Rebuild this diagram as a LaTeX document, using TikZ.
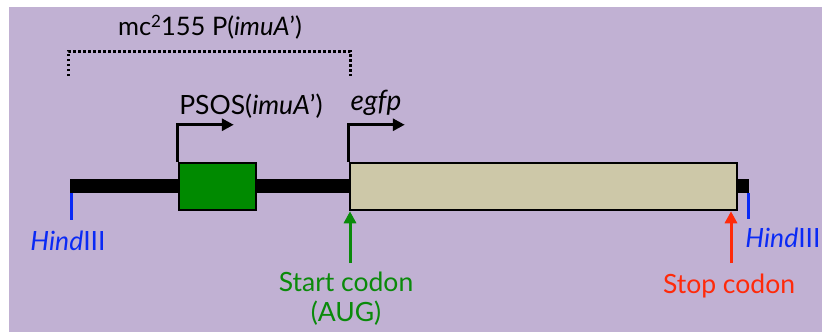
\documentclass[tikz,border=0pt]{standalone}
\usepackage{fontspec}
\setmainfont{Lato}
\usetikzlibrary{arrows.meta}
\definecolor{bg}{HTML}{C1B1D3}
\definecolor{gbox}{HTML}{008A00}
\definecolor{beige}{HTML}{CDC8A8}
\definecolor{hblue}{HTML}{0A2AF5}
\definecolor{sgreen}{HTML}{0A8A0A}
\definecolor{sred}{HTML}{FF2A0A}
\begin{document}
\begin{tikzpicture}[x=1pt,y=-1pt,
  lbl/.style={font=\fontsize{26.5}{30}\selectfont, inner sep=0pt, align=center},
  gene/.style={draw=black, line width=2.5pt, minimum height=47pt, inner sep=0pt},
  prom/.style={line width=3pt, -{Triangle[length=12pt,width=12pt]}},
  codon/.style={line width=3pt, -{Triangle[length=12pt,width=12pt]}},
  site/.style={hblue, line width=3pt}]
\useasboundingbox (0,0) rectangle (822,332);
\fill[bg] (9,7) rectangle (822,332);
% backbone
\coordinate (bl) at (70,186);
\coordinate (br) at (749,186);
\draw[line width=14pt] (bl) -- (br);
% genes
\node[gene, fill=gbox, minimum width=77pt] (psos) at (217.5,186.5) {};
\node[gene, fill=beige, minimum width=387pt] (egfp) at (543.5,186.5) {};
% restriction sites
\coordinate (hl) at (71,193);
\coordinate (hr) at (748,193);
\draw[site] (hl) -- ++(0,27);
\draw[site] (hr) -- ++(0,26);
\node[lbl, text=hblue] (hindl) at (68,241) {\itshape Hind\upshape III};
\node[lbl, text=hblue] (hindr) at (783,238) {\itshape Hind\upshape III};
% promoter arrows
\draw[prom] (psos.north west) -- ++(0,-37) -- ++(56,0);
\draw[prom] (egfp.north west) -- ++(0,-37) -- ++(56,0);
\node[lbl] (psoslbl) at (251,106) {PSOS(\itshape imuA\/\upshape ')};
\node[lbl, font=\fontsize{28}{32}\selectfont] (egfplbl) at (376,103) {\itshape egfp};
% bracket
\coordinate (b1) at (68,76);
\coordinate (b2) at (350,76);
\draw[line width=3pt, dash pattern=on 2.5pt off 2.5pt] (b1) -- (68,51) -- (350,51) -- (b2);
\node[lbl, font=\fontsize{25.5}{30}\selectfont] (title) at (210,27) {mc\raisebox{0.3em}{\fontsize{17}{17}\selectfont 2}155 P(\itshape imuA\/\upshape ')};
% codons
\coordinate (startbase) at (350,263);
\coordinate (stopbase) at (731,263);
\draw[codon, sgreen] (startbase) -- (startbase |- egfp.south);
\draw[codon, sred] (stopbase) -- (stopbase |- egfp.south);
\node[lbl, text=sgreen] (startlbl) at (346,299) {Start codon\\(AUG)};
\node[lbl, text=sred] (stoplbl) at (729,286) {Stop codon};
\end{tikzpicture}
\end{document}
